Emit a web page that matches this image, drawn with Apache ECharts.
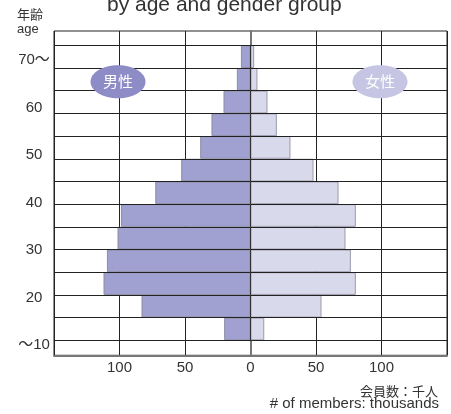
<!DOCTYPE html>
<html>
<head>
<meta charset="utf-8">
<script src="https://cdn.jsdelivr.net/npm/echarts@6/dist/echarts.min.js"></script>
<style>
html,body{margin:0;padding:0;background:#fff;}
#chart{width:451px;height:414px;}
</style>
</head>
<body>
<div id="chart"></div>
<script>
// age groups, top row first
const ageGroups = ['70～', '65', '60', '55', '50', '45', '40', '35', '30', '25', '20', '15', '10'];
// members, thousands
const maleValues   = [7.3, 10.4, 20.6, 29.8, 38.4, 52.9, 72.7, 98.9, 101.5, 109.6, 112.2, 83.2, 20.1];
const femaleValues = [2.8, 5.3, 13.0, 20.1, 30.5, 48.1, 67.2, 80.4, 72.5, 76.6, 80.4, 54.2, 10.5];
// y tick labels
const yTickValues = [10, 20, 30, 40, 50, 60, 70];
const yTickLabels = ['～10', '20', '30', '40', '50', '60', '70～'];
const titleText = 'by age and gender group';
const maleName = '男性';
const femaleName = '女性';

const FONT = "'Liberation Sans', 'Noto Sans CJK JP', sans-serif";
const chart = echarts.init(document.getElementById('chart'), null, {renderer: 'canvas'});

const option = {
  animation: false,
  backgroundColor: '#fff',
  textStyle: {fontFamily: FONT},
  title: {
    text: titleText, left: 102, top: -10,
    textStyle: {fontSize: 21, fontWeight: 'normal', color: '#333', fontFamily: FONT}
  },
  grid: [
    {left: 54, top: 31, width: 393, height: 324.3, show: true, borderColor: '#222', borderWidth: 1, containLabel: false},
    {left: 54, top: 45.3, width: 393, height: 295, containLabel: false}
  ],
  xAxis: [
    {
      gridIndex: 0, type: 'value', min: -150, max: 150, interval: 50,
      axisLine: {show: true, onZero: false, lineStyle: {color: '#777', width: 2}},
      axisTick: {show: false},
      splitLine: {show: true, lineStyle: {color: '#222', width: 1}},
      axisLabel: {
        fontSize: 15, color: '#333', margin: 5, fontFamily: FONT,
        formatter: v => (Math.abs(v) === 150 ? '' : String(Math.abs(v)))
      }
    },
    {gridIndex: 1, type: 'value', min: -150, max: 150, show: false}
  ],
  yAxis: [
    {
      gridIndex: 0, type: 'value', min: 7.83, max: 76.1,
      axisLine: {show: true, lineStyle: {color: '#777', width: 2}},
      axisTick: {show: false},
      splitLine: {show: false},
      axisLabel: {
        customValues: yTickValues,
        fontSize: 15, color: '#333', align: 'center', margin: 20, fontFamily: FONT,
        formatter: v => yTickLabels[yTickValues.indexOf(Math.round(v))] || ''
      }
    },
    {
      gridIndex: 1, type: 'category', data: ageGroups, inverse: true, z: 5,
      axisLabel: {show: false}, axisTick: {show: false},
      axisLine: {show: true, onZero: true, lineStyle: {color: '#333', width: 1}},
      splitLine: {show: true, lineStyle: {color: '#222', width: 1}}
    }
  ],
  series: [
    {
      name: maleName, type: 'bar', xAxisIndex: 1, yAxisIndex: 1,
      data: maleValues.map(v => -v),
      barCategoryGap: '0%', barGap: '-100%',
      itemStyle: {color: '#a1a1d1', borderColor: '#8c8ca4', borderWidth: 1}
    },
    {
      name: femaleName, type: 'bar', xAxisIndex: 1, yAxisIndex: 1,
      data: femaleValues,
      barCategoryGap: '0%', barGap: '-100%',
      itemStyle: {color: '#d9d9ec', borderColor: '#9a9aaa', borderWidth: 1}
    }
  ],
  graphic: [
    {type: 'text', left: 17, top: 8, style: {text: '年齢', font: "13px 'Noto Sans CJK JP', sans-serif", fill: '#333'}},
    {type: 'text', left: 17, top: 23, style: {text: 'age', font: "13px " + FONT, fill: '#333'}},
    {type: 'ellipse', shape: {cx: 118, cy: 81.7, rx: 27.5, ry: 16.5}, style: {fill: '#8e8cc6'}, z: 10},
    {type: 'text', x: 118, y: 81.7, style: {text: maleName, font: "15px 'Noto Sans CJK JP', sans-serif", fill: '#fff', textAlign: 'center', textVerticalAlign: 'middle'}, z: 11},
    {type: 'ellipse', shape: {cx: 380, cy: 81.7, rx: 27.5, ry: 16.5}, style: {fill: '#c6c6e4'}, z: 10},
    {type: 'text', x: 380, y: 81.7, style: {text: femaleName, font: "15px 'Noto Sans CJK JP', sans-serif", fill: '#fff', textAlign: 'center', textVerticalAlign: 'middle'}, z: 11},
    {type: 'text', x: 438, y: 391, style: {text: '会員数：千人', font: "13px 'Noto Sans CJK JP', sans-serif", fill: '#333', textAlign: 'right', textVerticalAlign: 'middle'}},
    {type: 'text', x: 439, y: 404, style: {text: '# of members: thousands', font: "15px " + FONT, fill: '#333', textAlign: 'right', textVerticalAlign: 'middle'}}
  ]
};
chart.setOption(option);
</script>
</body>
</html>
